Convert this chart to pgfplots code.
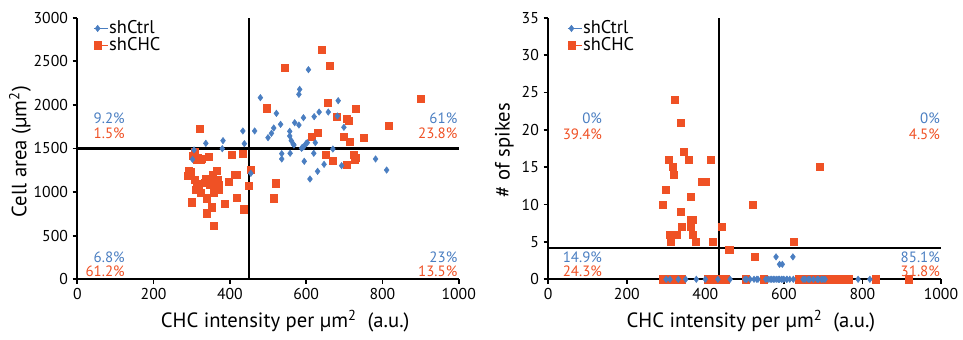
\documentclass[border=0pt]{standalone}
\usepackage{fontspec}
\setmainfont{PT Sans}
\usepackage{pgfplots}
\pgfplotsset{compat=1.18}
\definecolor{cblue}{RGB}{74,126,193}
\definecolor{cred}{RGB}{239,81,37}
\tikzset{
pb/.style={text=cblue, font=\fontsize{11.2}{12}\selectfont, anchor=east, inner sep=0pt},
pr/.style={text=cred, font=\fontsize{11.2}{12}\selectfont, anchor=east, inner sep=0pt},
}
\pgfplotsset{myax/.style={
  scale only axis, height=196.2pt,
  axis x line*=bottom, axis y line*=left,
  axis line style={line width=1.6pt, -},
  tick align=outside, major tick length=3.5pt,
  every tick/.style={black, line width=1.3pt},
  xmin=0, xmax=1000, xtick={0,200,...,1000},
  ticklabel style={font=\fontsize{11.8}{13}\selectfont},
  /pgf/number format/assume math mode=true,
  /pgf/number format/set thousands separator={},
  label style={font=\fontsize{15.5}{17}\selectfont},
  clip=false,
  xlabel={CHC intensity per µm\textsuperscript{2}\ \ (a.u.)},
  legend style={draw=none, fill=none, anchor=north west, inner sep=0pt,
    font=\fontsize{13.8}{15}\selectfont, row sep=0.8pt,
    nodes={inner sep=0.5pt, text height=9.4pt, text depth=1.4pt},
    legend cell align=left},
  legend image code/.code={\path (0cm,0cm) -- (0.38cm,0cm);\draw[mark repeat=2,mark phase=2,##1] plot coordinates {(0cm,0cm) (0.1cm,0cm) (0.2cm,0cm)};},
  reverse legend,
},
bl/.style={only marks, mark=diamond*, mark size=2.4pt, color=cblue},
rd/.style={only marks, mark=square*, mark size=2.65pt, color=cred},
}
\begin{document}
\begin{tikzpicture}
\useasboundingbox (0,0) rectangle (722.25pt,254.25pt);
% ---------------- left panel ----------------
\begin{axis}[myax, at={(57.98pt,44.78pt)}, anchor=south west, width=286.05pt,
  ymin=0, ymax=3000, ytick={0,500,...,3000},
  ylabel={Cell area (µm\textsuperscript{2})},
  xlabel style={at={(axis description cs:0.545,0)}, anchor=north, yshift=-23pt, inner sep=0pt},
  ylabel style={at={(axis description cs:-0.150,0.488)}, anchor=center},
  legend style={at={(0.042,0.99)}},
]
\draw[line width=1.6pt] (axis cs:451,0) -- (axis cs:451,3000);
\draw[line width=1.6pt] (axis cs:0,1500) -- (axis cs:1000,1500);
\addplot[rd] coordinates {
(642,2637)(543,2427)(663,2446)(900,2075)(657,2025)(497,1961)(731,1957)(681,1861)(707,1838)(712,1823)
(817,1758)(321,1731)(631,1682)(615,1632)(699,1632)(750,1624)(714,1578)
(309,1464)(344,1406)(404,1429)(433,1441)(302,1418)(313,1376)(323,1376)(317,1399)(326,1380)
(651,1425)(725,1425)(727,1376)(730,1395)(671,1360)(706,1315)(456,1261)
(293,1246)(298,1238)(291,1189)(309,1139)(313,1093)(318,1062)(311,1024)(324,994)(337,1147)(334,1108)
(354,1196)(359,1127)(348,1089)(366,1246)(369,1139)(365,1101)(371,1024)(359,994)(366,1032)(370,1082)
(397,1120)(412,1200)(419,1196)(449,1070)(521,1101)(514,929)(300,883)(339,929)(387,864)(418,940)
(352,826)(339,757)(436,803)(359,611)
};
\addlegendentry{shCHC}
\addplot[bl] coordinates {
(302,1376)(306,1483)(337,1559)(382,1590)(380,1498)(434,1701)(438,1555)(465,1701)(455,1215)(480,2083)
(500,1624)(509,1674)(515,1735)(522,1903)(533,1777)(536,1441)(536,1380)(557,1697)(557,1643)(561,1590)
(566,1551)(568,1540)(558,1445)(570,1796)(581,1769)(581,2121)(583,2178)(606,2404)(593,1853)(588,1502)
(590,1513)(594,1521)(600,1559)(603,1567)(595,1353)(610,1150)(621,1865)(624,1567)(620,1445)(630,1238)
(634,1918)(647,1318)(658,1918)(684,2048)(682,1873)(670,1494)(699,1743)(693,1303)(782,1380)(811,1253)
};
\addlegendentry{shCtrl}
\node[pb] at (axis cs:125,1845) {9.2\%};
\node[pr] at (axis cs:125,1670) {1.5\%};
\node[pb] at (axis cs:997,1845) {61\%};
\node[pr] at (axis cs:997,1670) {23.8\%};
\node[pb] at (axis cs:125,255) {6.8\%};
\node[pr] at (axis cs:125,95) {61.2\%};
\node[pb] at (axis cs:997,255) {23\%};
\node[pr] at (axis cs:997,95) {13.5\%};
\end{axis}
% ---------------- right panel ----------------
\begin{axis}[myax, at={(411.2pt,44.78pt)}, anchor=south west, width=294.5pt,
  ymin=0, ymax=35, ytick={0,5,...,35},
  ylabel={\# of spikes},
  xlabel style={at={(axis description cs:0.516,0)}, anchor=north, yshift=-23pt, inner sep=0pt},
  ylabel style={at={(axis description cs:-0.112,0.494)}, anchor=center},
  legend style={at={(0.048,0.99)}},
]
\draw[line width=1.6pt] (axis cs:435,0) -- (axis cs:435,35);
\draw[line width=1.6pt] (axis cs:0,4.2) -- (axis cs:1000,4.2);
\addplot[rd] coordinates {
(323,24)(337,21)(345,17)(306,16)(357,16)(414,16)(317,15)(692,15)(319,14)(392,13)(401,13)(300,12)
(362,11)(291,10)(521,10)(337,9)(362,8)(369,8)(340,7)(363,7)(441,7)(309,6)(326,6)(369,6)(313,5)
(375,5)(418,5)(626,5)(461,4)(527,3)
(291,0)(306,0)(317,0)(332,0)(341,0)(406,0)(414,0)(430,0)(443,0)(452,0)(502,0)(548,0)(639,0)(649,0)
(662,0)(675,0)(689,0)(710,0)(719,0)(728,0)(736,0)(745,0)(765,0)(834,0)(918,0)
};
\addlegendentry{shCHC}
\addplot[bl] coordinates {
(580,3)(623,3)(589,2)(596,2)
(300,0)(310,0)(331,0)(350,0)(377,0)(400,0)(432,0)(463,0)(501,0)(505,0)(514,0)(524,0)(531,0)(534,0)
(554,0)(560,0)(565,0)(569,0)(573,0)(577,0)(582,0)(586,0)(589,0)(594,0)(598,0)(600,0)(607,0)(608,0)
(615,0)(624,0)(649,0)(654,0)(662,0)(666,0)(675,0)(685,0)(688,0)(696,0)(700,0)(705,0)(789,0)(819,0)
};
\addlegendentry{shCtrl}
\node[pb] at (axis cs:137.5,21.5) {0\%};
\node[pr] at (axis cs:137.5,19.45) {39.4\%};
\node[pb] at (axis cs:998,21.5) {0\%};
\node[pr] at (axis cs:998,19.45) {4.5\%};
\node[pb] at (axis cs:137.5,3.0) {14.9\%};
\node[pr] at (axis cs:137.5,1.1) {24.3\%};
\node[pb] at (axis cs:998,3.0) {85.1\%};
\node[pr] at (axis cs:998,1.1) {31.8\%};
\end{axis}
\end{tikzpicture}
\end{document}
